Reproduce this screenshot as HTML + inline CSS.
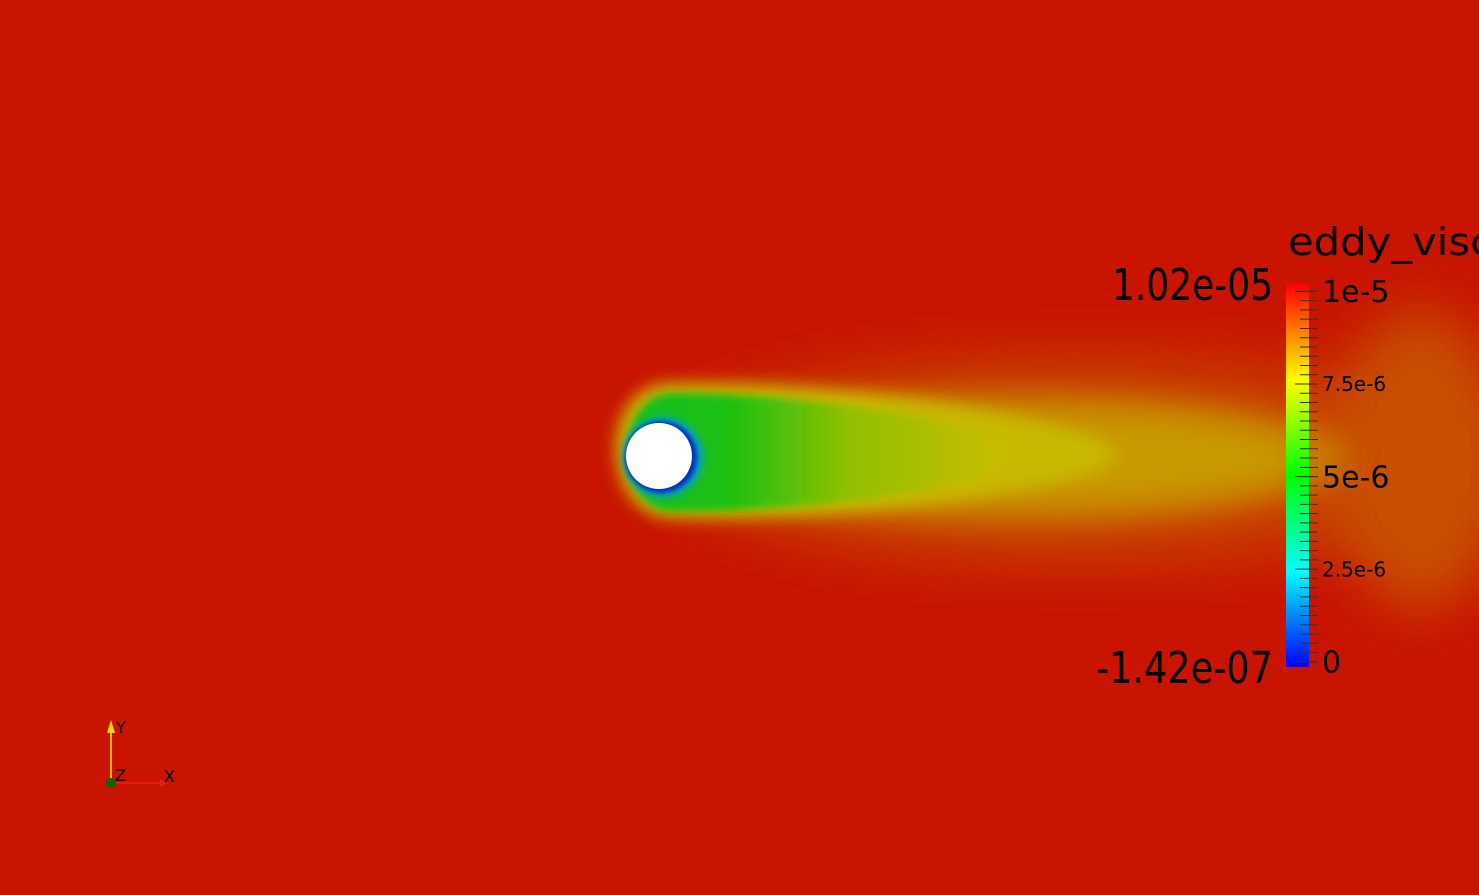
<!DOCTYPE html>
<html><head><meta charset="utf-8"><style>
html,body{margin:0;padding:0;width:1479px;height:895px;overflow:hidden;background:#c81400}
svg{display:block}
text{font-family:"DejaVu Sans","Liberation Sans",sans-serif}
</style></head><body>
<svg id="v" width="1479" height="895" viewBox="0 0 1479 895">
<defs>
<filter id="b30" x="-50%" y="-50%" width="200%" height="200%"><feGaussianBlur stdDeviation="28"/></filter>
<filter id="b15" x="-50%" y="-50%" width="200%" height="200%"><feGaussianBlur stdDeviation="14"/></filter>
<filter id="b8" x="-50%" y="-50%" width="200%" height="200%"><feGaussianBlur stdDeviation="8"/></filter>
<filter id="b4" x="-50%" y="-50%" width="200%" height="200%"><feGaussianBlur stdDeviation="4"/></filter>
<filter id="b2" x="-50%" y="-50%" width="200%" height="200%"><feGaussianBlur stdDeviation="2"/></filter>
<linearGradient id="cb" x1="0" y1="1" x2="0" y2="0">
<stop offset="0" stop-color="#0000ff"/><stop offset="0.25" stop-color="#00ffff"/>
<stop offset="0.5" stop-color="#00ff00"/><stop offset="0.75" stop-color="#ffff00"/>
<stop offset="1" stop-color="#ff0000"/></linearGradient>
<linearGradient id="wk" x1="620" x2="1000" y1="0" y2="0" gradientUnits="userSpaceOnUse">
<stop offset="0" stop-color="#10c020"/><stop offset="0.3" stop-color="#20c010"/>
<stop offset="0.6" stop-color="#90c000"/><stop offset="1" stop-color="#c8bc00"/></linearGradient>
</defs>
<rect width="1479" height="895" fill="#c81400"/>
<g>
<ellipse cx="1080" cy="460" rx="420" ry="105" fill="#c84000" filter="url(#b30)"/>
<ellipse cx="1420" cy="460" rx="90" ry="150" fill="#c85000" filter="url(#b30)"/>
<ellipse cx="1020" cy="458" rx="330" ry="66" fill="#c87a00" filter="url(#b15)"/>
<ellipse cx="1060" cy="458" rx="240" ry="42" fill="#c89a00" filter="url(#b15)"/>
<path d="M670,383 C780,380 1000,400 1100,440 C1120,450 1120,462 1100,470 C1000,505 780,522 670,518 C600,516 595,385 670,383 Z" fill="#c8b800" filter="url(#b8)"/>
<path d="M672,393 C760,392 930,410 1000,440 C1015,450 1015,462 1000,470 C930,500 760,512 672,511 C612,510 612,395 672,393 Z" fill="url(#wk)" filter="url(#b4)"/>
<circle cx="663" cy="457" r="40" fill="#00a0c8" filter="url(#b4)"/>
<circle cx="661" cy="457" r="36" fill="#0030c0" filter="url(#b2)"/>
<circle cx="659" cy="456" r="33" fill="#ffffff"/>
</g>
<g id="cbar">
<text x="1288" y="255" font-size="38" fill="#000" textLength="205" lengthAdjust="spacingAndGlyphs">eddy_visc</text>
<rect x="1286" y="284" width="23" height="383" fill="url(#cb)"/>
<text x="1112" y="300" font-size="44" fill="#000" textLength="161" lengthAdjust="spacingAndGlyphs">1.02e-05</text>
<text x="1096" y="683" font-size="44" fill="#000" textLength="177" lengthAdjust="spacingAndGlyphs">-1.42e-07</text>
</g>
<g>
<line x1="111" y1="783" x2="111" y2="728" stroke="#ffee00" stroke-width="1.5"/>
<polygon points="111,720 107,733 115,733" fill="#e8d800"/>
<line x1="111" y1="783" x2="160" y2="783" stroke="#ff2020" stroke-width="1"/>
<polygon points="168,783 160,779 160,787" fill="#e02020"/>
<circle cx="111" cy="783" r="5" fill="#106010"/>
<text x="116" y="733" font-size="16" fill="#000">Y</text>
<text x="115" y="781" font-size="16" fill="#000">Z</text>
<text x="164" y="782" font-size="16" fill="#000">X</text>
</g>
</svg>
<script>
var tickValues=[1e-5,7.5e-6,5e-6,2.5e-6,0];
var tickLabels=["1e-5","7.5e-6","5e-6","2.5e-6","0"];
var tickSizes=[1,0,1,0,1];
var rangeMin=-1.42e-7, rangeMax=1.02e-5;
function yScale(v){return 667-(v-rangeMin)/(rangeMax-rangeMin)*383;}
var g=document.getElementById('cbar');
var ns='http://www.w3.org/2000/svg';
for(var v=0;v<=1.0e-5+1e-12;v+=2.5e-7){
  var l=document.createElementNS(ns,'line');
  var y=yScale(v);
  l.setAttribute('x1',1300);l.setAttribute('x2',1318);
  l.setAttribute('y1',y);l.setAttribute('y2',y);
  l.setAttribute('stroke','#333');l.setAttribute('stroke-width','1');
  
  
  g.appendChild(l);
}
for(var i=0;i<tickValues.length;i++){
  var y=yScale(tickValues[i]);
  var l=document.createElementNS(ns,'line');
  l.setAttribute('x1',1295);l.setAttribute('x2',1318);
  l.setAttribute('y1',y);l.setAttribute('y2',y);
  l.setAttribute('stroke','#333');
  
  
  g.appendChild(l);
  var t=document.createElementNS(ns,'text');
  var fs=tickSizes[i]?30:20;
  t.setAttribute('x',1322);t.setAttribute('y',y+fs*0.36);
  t.setAttribute('font-size',fs);t.setAttribute('fill','#000');
  t.textContent=tickLabels[i];
  
  
  g.appendChild(t);
}
</script>
</body></html>
